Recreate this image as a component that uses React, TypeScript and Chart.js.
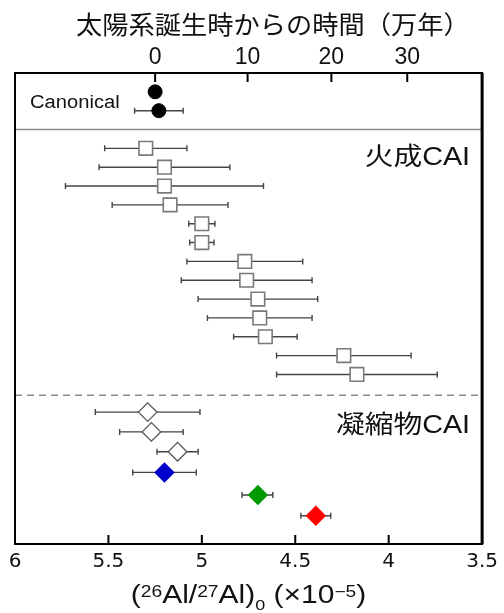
import { useEffect, useRef } from "react";
import { Chart, registerables } from "chart.js";

Chart.register(...registerables);

// ---- data ----
const X_TICKS = [6, 5.5, 5, 4.5, 4, 3.5];
const TIME_TICKS = [0, 10, 20, 30]; // 万年
const R0 = 5.25; // ratio at t = 0
const HALF_LIFE = 70; // 万年

const CANON_VALUES = [5.25, 5.23];
const CANON_HIGH: (number | null)[] = [null, 5.36];
const CANON_LOW: (number | null)[] = [null, 5.1];
const CANON_ROWS = [1, 2];

const IGN_VALUES = [5.3, 5.2, 5.2, 5.17, 5.0, 5.0, 4.77, 4.76, 4.7, 4.69, 4.66, 4.24, 4.17];
const IGN_HIGH = [5.52, 5.55, 5.73, 5.48, 5.07, 5.065, 5.08, 5.11, 5.02, 4.97, 4.83, 4.6, 4.6];
const IGN_LOW = [5.08, 4.85, 4.67, 4.86, 4.93, 4.935, 4.46, 4.41, 4.38, 4.41, 4.49, 3.88, 3.74];
const IGN_ROWS = [4, 5, 6, 7, 8, 9, 10, 11, 12, 13, 14, 15, 16];

const COND_VALUES = [5.29, 5.27, 5.13, 5.2, 4.7, 4.39];
const COND_HIGH = [5.57, 5.44, 5.24, 5.37, 4.785, 4.47];
const COND_LOW = [5.01, 5.1, 5.02, 5.03, 4.62, 4.31];
const COND_ROWS = [18, 19.05, 20.1, 21.2, 22.4, 23.5];
const COND_FILL = ["#ffffff", "#ffffff", "#ffffff", "#0000cc", "#009900", "#ff0000"];
const COND_EDGE = ["#555555", "#555555", "#555555", "#0000cc", "#009900", "#ff0000"];

const SOLID_SEPARATOR_ROW = 3;
const DASHED_SEPARATOR_ROW = 17.1;

const TOP_TITLE = "太陽系誕生時からの時間（万年）";
const LABEL_CANON = "Canonical";
const LABEL_IGN = "火成CAI";
const LABEL_COND = "凝縮物CAI";

const LAT = "'Liberation Sans', Arial, sans-serif";
const MIX = "'Liberation Sans', 'Noto Sans CJK JP', sans-serif";
const CJK = "'Noto Sans CJK JP', sans-serif";

const timeToRatio = (t: number) => R0 * Math.exp((-Math.LN2 / HALF_LIFE) * t);

function drawStretched(
  ctx: CanvasRenderingContext2D,
  text: string,
  x: number,
  y: number,
  font: string,
  sx: number,
  align: CanvasTextAlign,
  baseline: CanvasTextBaseline = "alphabetic"
) {
  ctx.save();
  ctx.font = font;
  ctx.textAlign = align;
  ctx.textBaseline = baseline;
  ctx.fillStyle = "#111";
  ctx.translate(x, y);
  ctx.scale(sx, 1);
  ctx.fillText(text, 0, 0);
  ctx.restore();
}

const decorPlugin = {
  id: "decor",
  beforeDatasetsDraw(chart: any) {
    const { ctx, chartArea: a, scales } = chart;
    const xs = scales.x;
    const ys = scales.y;
    ctx.save();
    // separators
    ctx.strokeStyle = "#8c8c8c";
    ctx.lineWidth = 1.5;
    let y = ys.getPixelForValue(SOLID_SEPARATOR_ROW);
    ctx.beginPath();
    ctx.moveTo(a.left, y);
    ctx.lineTo(a.right, y);
    ctx.stroke();
    y = ys.getPixelForValue(DASHED_SEPARATOR_ROW);
    ctx.setLineDash([7, 5]);
    ctx.beginPath();
    ctx.moveTo(a.left, y);
    ctx.lineTo(a.right, y);
    ctx.stroke();
    ctx.setLineDash([]);

    // error bars
    const groups: [(number | null)[], (number | null)[], number[]][] = [
      [CANON_HIGH, CANON_LOW, CANON_ROWS],
      [IGN_HIGH, IGN_LOW, IGN_ROWS],
      [COND_HIGH, COND_LOW, COND_ROWS],
    ];
    ctx.strokeStyle = "#444";
    ctx.lineWidth = 1.4;
    const cap = 3;
    for (const [hi, lo, rows] of groups) {
      rows.forEach((r, i) => {
        const h = hi[i];
        const l = lo[i];
        if (h == null || l == null) return;
        const py = ys.getPixelForValue(r);
        const x1 = xs.getPixelForValue(h);
        const x2 = xs.getPixelForValue(l);
        ctx.beginPath();
        ctx.moveTo(x1, py);
        ctx.lineTo(x2, py);
        ctx.moveTo(x1, py - cap);
        ctx.lineTo(x1, py + cap);
        ctx.moveTo(x2, py - cap);
        ctx.lineTo(x2, py + cap);
        ctx.stroke();
      });
    }
    ctx.restore();
  },
  afterDraw(chart: any) {
    const { ctx, chartArea: a, scales } = chart;
    const xs = scales.x;
    const xt = scales.x2;
    ctx.save();
    // frame
    ctx.strokeStyle = "#000";
    ctx.lineWidth = 2;
    ctx.strokeRect(a.left, a.top, a.right - a.left, a.bottom - a.top);
    ctx.lineWidth = 3;
    ctx.beginPath();
    ctx.moveTo(a.right, a.top);
    ctx.lineTo(a.right, a.bottom);
    ctx.stroke();
    // inward ticks
    ctx.lineWidth = 2;
    const tl = 9;
    for (const t of xs.ticks) {
      const px = xs.getPixelForValue(t.value);
      ctx.beginPath();
      ctx.moveTo(px, a.bottom);
      ctx.lineTo(px, a.bottom - tl);
      ctx.stroke();
    }
    for (const t of xt.ticks) {
      const px = xt.getPixelForValue(t.value);
      ctx.beginPath();
      ctx.moveTo(px, a.top);
      ctx.lineTo(px, a.top + tl);
      ctx.stroke();
    }
    ctx.restore();

    // texts
    drawStretched(ctx, TOP_TITLE, 76, 24.5, `25px ${CJK}`, 1.05, "left", "middle");
    drawStretched(ctx, LABEL_CANON, a.left + 15, 107.5, `18px ${LAT}`, 1.12, "left");
    drawStretched(ctx, LABEL_IGN, a.right - 12, 164.5, `25px ${MIX}`, 1.15, "right");
    drawStretched(ctx, LABEL_COND, a.right - 12, 433, `25px ${MIX}`, 1.15, "right");

    // bottom axis title with super/subscripts
    const pieces: [string, number, number][] = [
      ["(", 25, 0],
      ["26", 16, -6.8],
      ["Al/", 25, 0],
      ["27", 16, -6.8],
      ["Al)", 25, 0],
      ["0", 15, 6.5],
      [" (×10", 25, 0],
      ["−5", 16, -6.8],
      [")", 25, 0],
    ];
    const sx = 1.2;
    ctx.save();
    let total = 0;
    const widths = pieces.map(([t, s]) => {
      ctx.font = `${s}px ${LAT}`;
      const w = ctx.measureText(t).width;
      total += w;
      return w;
    });
    ctx.restore();
    let x = (a.left + a.right) / 2 - (total * sx) / 2;
    const base = 603.3;
    pieces.forEach(([t, s, dy], i) => {
      drawStretched(ctx, t, x, base + dy, `${s}px ${LAT}`, sx, "left");
      x += widths[i] * sx;
    });
  },
};

export default function App() {
  const ref = useRef<HTMLCanvasElement | null>(null);
  useEffect(() => {
    if (!ref.current) return;
    const chart = new Chart(ref.current, {
      type: "scatter",
      data: {
        datasets: [
          {
            label: "Canonical",
            data: CANON_VALUES.map((v, i) => ({ x: v, y: CANON_ROWS[i] })),
            pointStyle: "circle",
            pointRadius: 7,
            backgroundColor: "#000",
            borderColor: "#000",
            borderWidth: 1,
          },
          {
            label: "火成CAI",
            data: IGN_VALUES.map((v, i) => ({ x: v, y: IGN_ROWS[i] })),
            pointStyle: "rect",
            pointRadius: 9.6,
            backgroundColor: "#fff",
            borderColor: "#7a7a7a",
            borderWidth: 1.6,
          },
          {
            label: "凝縮物CAI",
            data: COND_VALUES.map((v, i) => ({ x: v, y: COND_ROWS[i] })),
            pointStyle: "rectRot",
            pointRadius: 9.3,
            backgroundColor: COND_FILL,
            borderColor: COND_EDGE,
            borderWidth: 1.3,
          },
        ],
      },
      options: {
        animation: false,
        responsive: false,
        events: [],
        layout: { padding: { left: 15, right: 18, top: 0, bottom: 0 } },
        plugins: { legend: { display: false }, tooltip: { enabled: false } },
        scales: {
          x: {
            type: "linear",
            position: "bottom",
            min: 3.5,
            max: 6,
            reverse: true,
            afterBuildTicks: (s: any) => {
              s.ticks = X_TICKS.map((v) => ({ value: v }));
            },
            ticks: {
              autoSkip: false,
              maxRotation: 0,
              padding: 6,
              color: "#111",
              font: { family: "'DejaVu Sans', sans-serif", size: 20 },
              callback: (v: any) => String(v),
            },
            grid: { display: false, drawTicks: false },
            border: { display: false },
            afterFit: (s: any) => {
              s.height = 69;
            },
          },
          x2: {
            type: "linear",
            position: "top",
            min: 3.5,
            max: 6,
            reverse: true,
            afterBuildTicks: (s: any) => {
              s.ticks = TIME_TICKS.map((t) => ({ value: timeToRatio(t) }));
            },
            ticks: {
              autoSkip: false,
              maxRotation: 0,
              padding: 2,
              color: "#111",
              font: { family: LAT, size: 23 },
              callback: (_v: any, i: number) => String(TIME_TICKS[i]),
            },
            grid: { display: false, drawTicks: false },
            border: { display: false },
            afterFit: (s: any) => {
              s.height = 73;
            },
          },
          y: { type: "linear", min: 0, max: 25, reverse: true, display: false },
        },
      },
      plugins: [decorPlugin],
    });
    return () => chart.destroy();
  }, []);
  return (
    <div style={{ position: "absolute", left: 0, top: 0, width: 504, height: 613, background: "#fff" }}>
      <canvas ref={ref} width={504} height={613} style={{ display: "block" }} />
    </div>
  );
}
